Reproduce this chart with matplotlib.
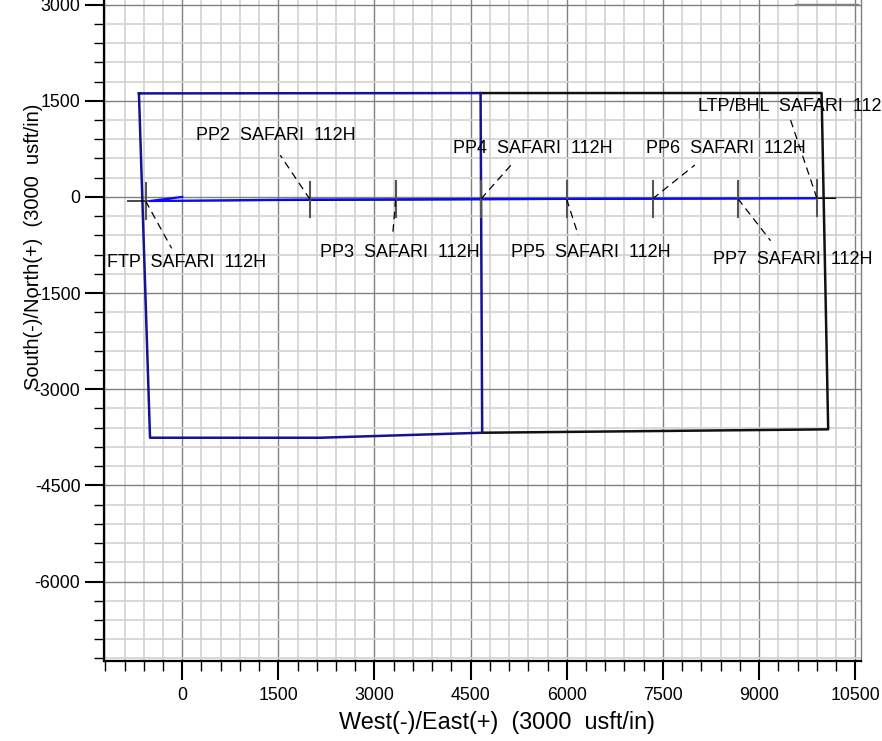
import matplotlib
matplotlib.use("Agg")
import matplotlib.pyplot as plt
from matplotlib.ticker import MultipleLocator
from matplotlib.lines import Line2D

plt.rcParams['font.family'] = ['Liberation Sans', 'DejaVu Sans']
plt.rcParams['axes.unicode_minus'] = False

# ---- data ----
lease_blue_x = [-675, 4655, 4680, 2150, -502, -675]
lease_blue_y = [1615, 1620, -3679, -3757, -3757, 1615]
lease_black_x = [4655, 9975, 10078, 4680]
lease_black_y = [1620, 1621, -3626, -3679]

plan_x = [-850, 9902, 10190]
plan_y = [-64, -22, -22]
well_x = [0, -504, 1994, 4660, 9902]
well_y = [0, -64, -40, -33, -22]

marker_names = ["FTP  SAFARI  112H", "PP2  SAFARI  112H", "PP3  SAFARI  112H",
                "PP4  SAFARI  112H", "PP5  SAFARI  112H", "PP6  SAFARI  112H",
                "PP7  SAFARI  112H", "LTP/BHL  SAFARI  112H"]
marker_x = [-571, 1994, 3329, 4660, 5997, 7339, 8669, 9902]
marker_y = [-64, -40, -37, -33, -33, -30, -27, -22]
leader_x = [-165, 1530, 3282, 5154, 6178, 7998, 9179, 9491]
leader_y = [-802, 650, -621, 524, -594, 498, -683, 1200]
label_x = [-1175, 214, 2148, 4223, 5128, 7229, 8279, 8050]
label_y = [-1016, 958, -872, 755, -872, 758, -969, 1407]

x_major = 1500
minor = 300
xlim = (-1220, 10590)
ylim = (-7240, 3100)

# ---- figure ----
fig = plt.figure(figsize=(8.82, 7.41), dpi=100)
ax = fig.add_axes([104/882, 1-661/741, (861-104)/882, (661+1.8)/741])
ax.set_xlim(*xlim)
ax.set_ylim(*ylim)

ax.xaxis.set_major_locator(MultipleLocator(x_major))
ax.yaxis.set_major_locator(MultipleLocator(x_major))
ax.xaxis.set_minor_locator(MultipleLocator(minor))
ax.yaxis.set_minor_locator(MultipleLocator(minor))
ax.grid(which='minor', color='#d2d2d2', lw=1.2, zorder=0)
ax.grid(which='major', color='#808080', lw=1.0, zorder=0.5)
ax.set_axisbelow(True)

ax.tick_params(which='major', direction='out', length=14, width=1.5, labelsize=12.8,
               color='black', pad=5)
ax.tick_params(which='minor', direction='out', length=7, width=1.0, color='black')
ax.tick_params(axis='y', which='major', pad=3)
for s in ['left', 'bottom']:
    ax.spines[s].set_linewidth(1.6)
    ax.spines[s].set_color('black')
ax.spines['right'].set_color('#808080')
ax.spines['right'].set_linewidth(1.0)
ax.spines['top'].set_visible(False)

# lease lines
ax.plot(lease_black_x, lease_black_y, color='#111111', lw=1.8, zorder=3)
ax.plot(lease_blue_x, lease_blue_y, color='#14148f', lw=1.8, zorder=3)

# plan line and wellpath
ax.plot(plan_x, plan_y, color='black', lw=1.0, zorder=3)
ax.plot(well_x, well_y, color='#0a0aff', lw=1.6, zorder=4)

# markers, leaders, labels
for name, mx, my, lx, ly, tx, ty in zip(marker_names, marker_x, marker_y,
                                        leader_x, leader_y, label_x, label_y):
    ax.plot([mx, mx], [my - 280, my + 280], color='#555555', lw=1.5, zorder=5)
    ax.plot([mx, lx], [my, ly], color='black', lw=0.9, ls=(0, (6, 4)), zorder=5)
    ax.text(tx, ty, name, fontsize=13, ha='left', va='center', zorder=6,
            clip_on=False)

fig.text(497/882, 1-723/741, "West(-)/East(+)  (3000  usft/in)", fontsize=16.8,
         ha='center', va='center')
fig.text(34/882, 1-247/741, "South(-)/North(+)  (3000  usft/in)", fontsize=14.5,
         ha='center', va='center', rotation=90)

fig.add_artist(Line2D([795/882, 858/882], [1-4.3/741, 1-4.3/741],
                      color='#808080', lw=1.0))

fig.savefig("out.png", dpi=100)
